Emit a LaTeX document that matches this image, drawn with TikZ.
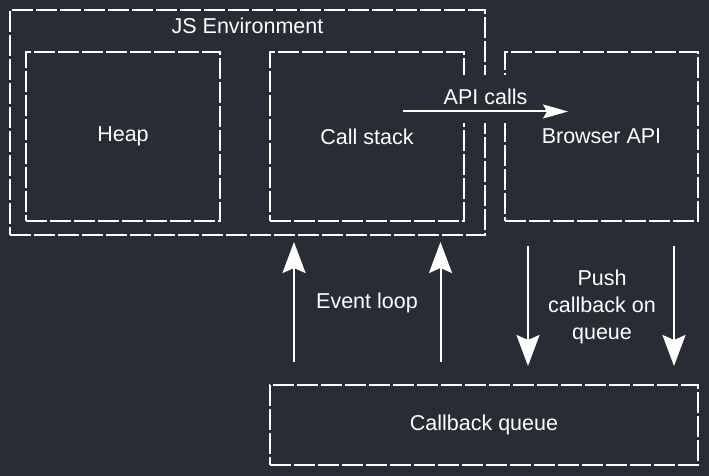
\documentclass[tikz,border=0pt]{standalone}
\usepackage{fontspec}
\setmainfont{Liberation Sans}
\usetikzlibrary{arrows.meta}
\definecolor{bg}{HTML}{282C34}

\begin{document}
\begin{tikzpicture}[x=1pt, y=-1pt, font=\fontsize{21.5}{27}\selectfont, text=white]
\tikzstyle{box} = [draw=white, line width=1.6pt, dash pattern=on 21pt off 3pt, rectangle, minimum width=194pt, minimum height=169pt, text centered]
\tikzstyle{big} = [draw=white, line width=2pt, -{Stealth[length=31pt, width=23pt, inset=5pt]}]
\tikzstyle{small} = [draw=white, line width=2pt, -{Stealth[length=25pt, width=14pt, inset=4pt]}]

\fill[bg] (0,0) rectangle (709,476);
\useasboundingbox (0,0) rectangle (709,476);

\node [box, minimum width=475pt, minimum height=225pt] (env) at (247.5,122.5) {};
\node [anchor=north] at (env.north) [yshift=-5pt] {JS Environment};
\node [box] (heap) at (123,136.5) {Heap};
\node [box] (stack) at (367,136.5) {Call stack};
\node [box, minimum width=193pt] (browser) at (601.5,136.5) {Browser API};
\node [box, minimum width=428pt, minimum height=80pt] (queue) at (484,425) {Callback queue};

% API calls
\fill[bg] (403,75) rectangle (568,123);
\coordinate (apiA) at (403,111.5);
\coordinate (apiB) at (568,111.5);
\path [small] (apiA) -- (apiB) node [midway, above=2pt] {API calls};

% event loop
\coordinate (loopA) at (294,362);
\coordinate (loopB) at (294,242);
\coordinate (loopC) at (440.5,362);
\coordinate (loopD) at (440.5,242);
\path [big] (loopA) -- (loopB);
\path [big] (loopC) -- (loopD);
\node (loop) at (367,302.5) {Event loop};

% push callback
\coordinate (pushA) at (528,246);
\coordinate (pushB) at (528,366);
\coordinate (pushC) at (674,246);
\coordinate (pushD) at (674,366);
\path [big] (pushA) -- (pushB);
\path [big] (pushC) -- (pushD);
\node [align=center] (push) at (602,306.5) {Push\\callback on\\queue};

\end{tikzpicture}
\end{document}
